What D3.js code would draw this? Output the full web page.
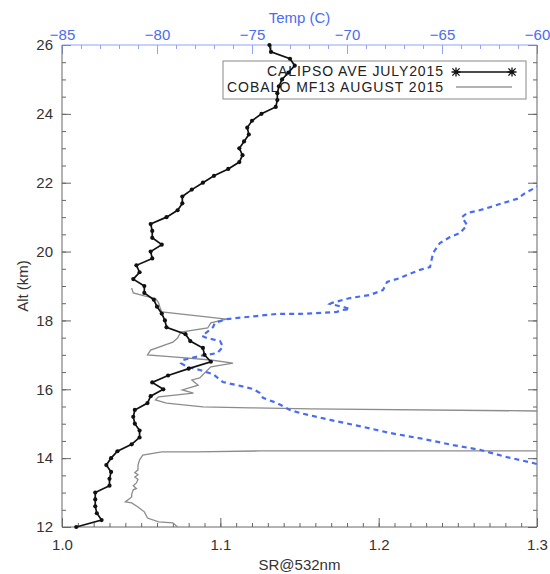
<!DOCTYPE html>
<html>
<head>
<meta charset="utf-8">
<script src="https://cdn.jsdelivr.net/npm/d3@7"></script>
<style>
  html, body { margin: 0; padding: 0; background: #fff; }
  svg { display: block; font-family: "Liberation Sans", Arial, sans-serif; }
</style>
</head>
<body>
<svg id="chart" width="550" height="574"></svg>
<script>
// CALIPSO mean scattering ratio profile (July 2015), 0.2 km levels
const calipsoAlt = [26.0, 25.8, 25.6, 25.4, 25.2, 25.0, 24.8, 24.6, 24.4, 24.2,
  24.0, 23.8, 23.6, 23.4, 23.2, 23.0, 22.8, 22.6, 22.4, 22.2,
  22.0, 21.8, 21.6, 21.4, 21.2, 21.0, 20.8, 20.6, 20.4, 20.2,
  20.0, 19.8, 19.6, 19.4, 19.2, 19.0, 18.8, 18.6, 18.4, 18.2,
  18.0, 17.8, 17.6, 17.4, 17.2, 17.0, 16.8, 16.6, 16.4, 16.2,
  16.0, 15.8, 15.6, 15.4, 15.2, 15.0, 14.8, 14.6, 14.4, 14.2,
  14.0, 13.8, 13.6, 13.4, 13.2, 13.0, 12.8, 12.6, 12.4, 12.2, 12.0];
const calipsoSR = [1.131, 1.132, 1.144, 1.147, 1.143, 1.139, 1.137, 1.136, 1.136, 1.135,
  1.126, 1.120, 1.117, 1.118, 1.115, 1.112, 1.114, 1.112, 1.105, 1.096,
  1.089, 1.082, 1.076, 1.076, 1.073, 1.066, 1.056, 1.057, 1.057, 1.063,
  1.056, 1.057, 1.047, 1.049, 1.045, 1.052, 1.052, 1.058, 1.060, 1.063,
  1.065, 1.066, 1.078, 1.081, 1.089, 1.090, 1.094, 1.080, 1.067, 1.057,
  1.064, 1.056, 1.054, 1.046, 1.045, 1.046, 1.049, 1.049, 1.044, 1.035,
  1.031, 1.028, 1.031, 1.030, 1.030, 1.021, 1.021, 1.021, 1.022, 1.025, 1.009];

// COBALD balloon profile MF13 (August 2015)
const cobaldAlt = [18.94, 18.80, 18.71, 18.64, 18.51, 18.36, 18.25, 18.04, 17.93, 17.78,
  17.66, 17.49, 17.37, 17.14, 17.00, 16.94, 16.85, 16.76, 16.65, 16.33,
  16.27, 16.12, 15.98, 15.89, 15.78, 15.69, 15.60, 15.49, 15.46, 15.43,
  15.37, 15.30, 14.30, 14.21, 14.21, 14.18, 14.18, 14.09, 13.95, 13.80,
  13.66, 13.58, 13.52, 13.45, 13.38, 13.28, 13.20, 13.12, 13.08, 12.95,
  12.87, 12.73, 12.70, 12.58, 12.44, 12.26, 12.15, 12.12, 12.00];
const cobaldSR = [1.044, 1.045, 1.052, 1.059, 1.061, 1.062, 1.063, 1.104, 1.094, 1.092,
  1.075, 1.073, 1.070, 1.056, 1.054, 1.070, 1.094, 1.108, 1.094, 1.087,
  1.082, 1.086, 1.076, 1.083, 1.061, 1.059, 1.066, 1.089, 1.119, 1.157,
  1.300, 1.600, 1.600, 1.300, 1.125, 1.084, 1.063, 1.051, 1.049, 1.048,
  1.048, 1.046, 1.048, 1.046, 1.048, 1.047, 1.045, 1.047, 1.045, 1.044,
  1.044, 1.040, 1.044, 1.048, 1.052, 1.054, 1.061, 1.070, 1.073];

// Temperature profile (deg C)
const tempAlt = [21.95, 21.85, 21.70, 21.53, 21.41, 21.29, 21.18, 21.12, 21.00, 20.77,
  20.54, 20.42, 20.25, 19.96, 19.55, 19.47, 19.32, 19.23, 19.12, 18.88,
  18.74, 18.65, 18.51, 18.48, 18.39, 18.33, 18.30, 18.25, 18.22, 18.19,
  18.19, 18.10, 18.04, 17.93, 17.81, 17.66, 17.55, 17.49, 17.40, 17.23,
  17.05, 16.97, 16.85, 16.76, 16.65, 16.56, 16.44, 16.21, 16.12, 16.01,
  15.89, 15.75, 15.60, 15.40, 15.31, 15.11, 14.91, 14.73, 14.56, 14.38,
  14.24, 14.03, 13.86, 13.80];
const tempC = [-59.8, -60.11, -60.63, -61.05, -61.79, -62.47, -63.16, -63.68, -63.95, -63.68,
  -64.05, -64.58, -65.11, -65.47, -65.63, -66.16, -66.84, -67.21, -67.89, -68.11,
  -68.79, -69.84, -70.79, -70.89, -70.21, -69.84, -70.26, -70.53, -71.26, -72.47,
  -73.68, -75.26, -76.32, -76.95, -77.05, -77.37, -77.63, -77.37, -76.68, -76.53,
  -76.84, -77.74, -78.63, -78.74, -78.42, -77.74, -77.05, -76.53, -75.79, -74.95,
  -74.58, -74.42, -73.68, -73.00, -72.47, -70.89, -69.16, -67.74, -66.00, -64.42,
  -63.00, -61.58, -60.21, -59.8];

const srTicks = [1.0, 1.1, 1.2, 1.3];
const tempTicks = [-85, -80, -75, -70, -65, -60];
const altTicks = [12, 14, 16, 18, 20, 22, 24, 26];
const legendLabels = ["CALIPSO AVE JULY2015", "COBALO MF13 AUGUST 2015"];

const svg = d3.select("#chart");
const pL = 62, pR = 537, pT = 45, pB = 527;

const x = d3.scaleLinear().domain([1.0, 1.3]).range([pL, pR]);
const xt = d3.scaleLinear().domain([-85, -60]).range([pL, pR]);
const y = d3.scaleLinear().domain([12, 26]).range([pB, pT]);

const axisColor = "#666";
const blue = "#4a6cf2";
const labelColor = "#333";

svg.append("clipPath").attr("id", "plot")
  .append("rect").attr("x", pL).attr("y", pT)
  .attr("width", pR - pL).attr("height", pB - pT);

function styleAxis(g, color, textColor) {
  g.select(".domain").remove();
  g.selectAll(".tick line").attr("stroke", color);
  g.selectAll(".tick text").attr("fill", textColor).style("font-size", "15px")
    .style("font-family", "'Liberation Sans', Arial, sans-serif");
}

// bottom axis (SR)
svg.append("g").attr("transform", `translate(0,${pB})`)
  .call(d3.axisBottom(x).tickValues(d3.range(1.0, 1.3001, 0.01)).tickFormat("").tickSizeInner(-4).tickSizeOuter(0))
  .call(g => styleAxis(g, axisColor, labelColor));
svg.append("g").attr("transform", `translate(0,${pB})`)
  .call(d3.axisBottom(x).tickValues(srTicks).tickFormat(d3.format(".1f")).tickSizeInner(-9).tickSizeOuter(0).tickPadding(12))
  .call(g => styleAxis(g, axisColor, labelColor));

// top axis (temperature)
svg.append("g").attr("transform", `translate(0,${pT})`)
  .call(d3.axisTop(xt).ticks(25).tickFormat("").tickSizeInner(-4).tickSizeOuter(0))
  .call(g => styleAxis(g, "#8fa3f7", blue));
svg.append("g").attr("transform", `translate(0,${pT})`)
  .call(d3.axisTop(xt).tickValues(tempTicks).tickFormat(d3.format("d")).tickSizeInner(-9).tickSizeOuter(0).tickPadding(5))
  .call(g => styleAxis(g, "#8fa3f7", blue));

// left axis (altitude)
svg.append("g").attr("transform", `translate(${pL},0)`)
  .call(d3.axisLeft(y).ticks(28).tickFormat("").tickSizeInner(-4).tickSizeOuter(0))
  .call(g => styleAxis(g, axisColor, labelColor));
svg.append("g").attr("transform", `translate(${pL},0)`)
  .call(d3.axisLeft(y).tickValues(altTicks).tickFormat(d3.format("d")).tickSizeInner(-9).tickSizeOuter(0).tickPadding(9))
  .call(g => styleAxis(g, axisColor, labelColor));

// right axis (ticks only)
svg.append("g").attr("transform", `translate(${pR},0)`)
  .call(d3.axisRight(y).ticks(28).tickFormat("").tickSizeInner(-4).tickSizeOuter(0))
  .call(g => styleAxis(g, axisColor, labelColor));
svg.append("g").attr("transform", `translate(${pR},0)`)
  .call(d3.axisRight(y).tickValues(altTicks).tickFormat("").tickSizeInner(-9).tickSizeOuter(0))
  .call(g => styleAxis(g, axisColor, labelColor));

// frame
svg.append("path")
  .attr("d", `M${pL},${pT}V${pB}H${pR}V${pT}`)
  .attr("fill", "none").attr("stroke", axisColor).attr("stroke-width", 1);
svg.append("line")
  .attr("x1", pL).attr("x2", pR).attr("y1", pT).attr("y2", pT)
  .attr("stroke", "#8fa3f7").attr("stroke-width", 1.2);

// axis titles
svg.append("text").attr("x", (pL + pR) / 2).attr("y", 23)
  .attr("text-anchor", "middle").attr("fill", blue).style("font-size", "15px").text("Temp (C)");
svg.append("text").attr("x", (pL + pR) / 2).attr("y", 570)
  .attr("text-anchor", "middle").attr("fill", labelColor).style("font-size", "15px").text("SR@532nm");
svg.append("text").attr("transform", `translate(28,${(pT + pB) / 2}) rotate(-90)`)
  .attr("text-anchor", "middle").attr("fill", labelColor).style("font-size", "15px").text("Alt (km)");

// legend
const lg = svg.append("g");
lg.append("rect").attr("x", 223).attr("y", 61).attr("width", 303).attr("height", 38)
  .attr("fill", "#fff").attr("stroke", "#888").attr("stroke-width", 1);
lg.append("text").attr("x", 443).attr("y", 76).attr("text-anchor", "end")
  .attr("fill", "#222").style("font-size", "14px").attr("textLength", 176).text(legendLabels[0]);
lg.append("text").attr("x", 443).attr("y", 92).attr("text-anchor", "end")
  .attr("fill", "#222").style("font-size", "14px").attr("textLength", 216).text(legendLabels[1]);
lg.append("line").attr("x1", 456).attr("x2", 512).attr("y1", 72).attr("y2", 72)
  .attr("stroke", "#111").attr("stroke-width", 1.4);
function asterisk(g, cx, cy, r) {
  const d = `M${cx - r},${cy}H${cx + r}M${cx},${cy - r}V${cy + r}` +
    `M${cx - r * 0.8},${cy - r * 0.8}L${cx + r * 0.8},${cy + r * 0.8}` +
    `M${cx - r * 0.8},${cy + r * 0.8}L${cx + r * 0.8},${cy - r * 0.8}`;
  g.append("path").attr("d", d).attr("stroke", "#111").attr("stroke-width", 1.3).attr("fill", "none");
}
asterisk(lg, 456, 72, 4.5);
asterisk(lg, 512, 72, 4.5);
lg.append("line").attr("x1", 456).attr("x2", 512).attr("y1", 87).attr("y2", 87)
  .attr("stroke", "#999").attr("stroke-width", 1.3);

// data
const plot = svg.append("g").attr("clip-path", "url(#plot)");

const cobald = cobaldAlt.map((a, i) => [cobaldSR[i], a]);
plot.append("path").datum(cobald)
  .attr("d", d3.line().x(d => x(d[0])).y(d => y(d[1])))
  .attr("fill", "none").attr("stroke", "#8c8c8c").attr("stroke-width", 1.3);

const temp = tempAlt.map((a, i) => [tempC[i], a]);
plot.append("path").datum(temp)
  .attr("d", d3.line().x(d => xt(d[0])).y(d => y(d[1])))
  .attr("fill", "none").attr("stroke", blue).attr("stroke-width", 2.2)
  .attr("stroke-dasharray", "5,4");

const calipso = calipsoAlt.map((a, i) => [calipsoSR[i], a]);
svg.append("path").datum(calipso)
  .attr("d", d3.line().x(d => x(d[0])).y(d => y(d[1])))
  .attr("fill", "none").attr("stroke", "#111").attr("stroke-width", 1.7);
svg.append("g").selectAll("circle").data(calipso).join("circle")
  .attr("cx", d => x(d[0])).attr("cy", d => y(d[1])).attr("r", 2.1).attr("fill", "#111");
</script>
</body>
</html>
